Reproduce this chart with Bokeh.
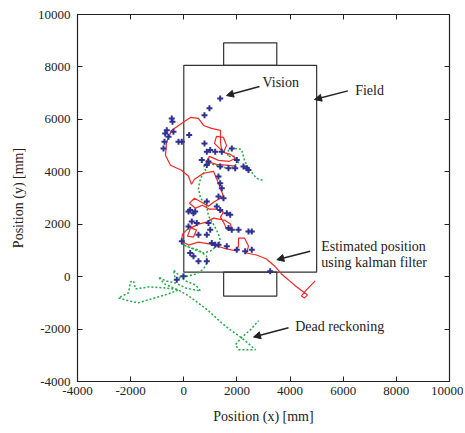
from bokeh.plotting import figure
from bokeh.models import Range1d, FixedTicker, LinearAxis, Arrow, NormalHead, Label, PrintfTickFormatter
from bokeh.embed import file_html
from bokeh.resources import INLINE

# Field outline and goals (mm)
field_left = [0, 1500, 1500]
field_right = [5000, 3500, 3500]
field_bottom = [170, 8060, -745]
field_top = [8060, 8920, 170]

# Estimated position using Kalman filter (mm)
kalman_x = [4946, 4581, 4430, 4543, 4656, 4506, 4204, 3941, 3677, 3414, 3113, 2736, 2360,
            2435, 2285, 2059, 2059, 1984, 1494, 1005, 553, 177, -87, -49, 215, 478, 365, 139,
            252, 553, 854, 1118, 1532, 1758, 1795, 1607, 1532, 1381, 1494, 1268, 967, 704, 440,
            215, 403, 666, 930, 1118, 1494, 1306, 1118, 742, 403, 290, 177, -87, -501, -689,
            -651, -463, -87, 252, 553, 742, 1043, 1381, 1381, 1419, 1155, 1231, 1494, 1607,
            1494, 1758, 1946, 1720, 1306, 967, 854, 1231, 1682, 1984]
kalman_y = [-163, -544, -734, -810, -696, -582, -354, -125, 103, 407, 673, 825, 901,
            1167, 1471, 1471, 1167, 977, 1091, 1243, 1319, 1205, 1357, 1623, 1889, 1776, 1509, 1547,
            1852, 2004, 2080, 2232, 2156, 2004, 1814, 1814, 2004, 2270, 2460, 2574, 2574, 2726, 2612,
            2802, 2992, 2840, 2688, 2840, 3068, 3562, 4019, 3943, 3715, 3524, 3829, 4057, 4247, 4627,
            5121, 5577, 5844, 6072, 6034, 5768, 5654, 5577, 5159, 4817, 5083, 5349, 5311, 5007,
            4741, 4665, 4513, 4399, 4437, 4589, 4399, 4285, 4247, 4209]

# Dead reckoning (mm)
dead_x = [2962, 2736, 2435, 2285, 2172, 1908, 1683, 1645, 1908, 2059, 1795, 1381, 1005, 742,
          817, 629, 553, 629, 854, 930, 1155, 1306, 1381, 1231, 1005, 742, 440, 102, -87, 177,
          553, 854, 892, 742, 478, 177, -87, -312, -388, -199, 64, 440, 629, 403, 64, -312,
          -689, -952, -726, -388, -199, -576, -1216, -1705, -2081, -2458, -2081, -2006, -1893,
          -1818, -1329, -689, -199, 177, 440, 930, 1419, 1795, 2172, 2435, 2698, 2360, 2059,
          1946, 2172, 2510, 2811]
dead_y = [3677, 3753, 4133, 4437, 4855, 4893, 4817, 4589, 4589, 4361, 4133, 4171, 4323, 4285,
          4057, 3753, 3372, 2992, 2726, 2308, 1928, 1623, 1357, 1167, 977, 901, 1015, 1167, 1243,
          1129, 1015, 787, 559, 293, 103, 27, -11, -125, 255, 65, -163, -316, -544, -506, -430,
          -240, -163, -11, -278, -430, -506, -658, -848, -1000, -924, -810, -620, -202, -163,
          -468, -392, -430, -506, -734, -924, -1304, -1760, -2064, -2330, -2558, -2787, -2787,
          -2787, -2597, -2330, -2026, -1684]

# Vision measurements (mm)
vision_x = [1370, 967, 779, -452, -425, -640, -700, -576, -726, -764, -199, -75, 203, 779, 866,
            994, 678, 866, 930, 1182, 1430, 1807, 1995, 1370, 1683, 1935, 2247, 2371, 2435, 1306,
            1370, 1430, 1306, 1494, 866, 1242, 1370, 1619, 1747, 177, 365, 301, 489, 177, 930,
            994, 553, 866, 1054, 1182, 1306, 1683, 1807, 2059, 2435, 2560, 1619, 1995, 2311, 2560,
            -75, 241, 365, 553, 866, 3252, -263, -11, 241, 429, -388]
vision_y = [6794, 6420, 6159, 6034, 5908, 5589, 5464, 5338, 5148, 4893, 5148, 5148, 5399, 5083,
            4768, 4829, 4448, 4258, 4388, 4768, 4768, 4893, 4448, 4197, 4133, 4133, 4197, 4133,
            4068, 3817, 3562, 3372, 3057, 2992, 2867, 2677, 2547, 2422, 2357, 2487, 2422, 2106,
            2042, 1916, 2042, 1787, 1597, 1597, 1281, 1217, 1217, 1852, 1787, 1787, 1726, 1726,
            1156, 1027, 966, 1027, 1346, 901, 776, 586, 586, 205, -114, 15, 2547, 2487, 5528]

ticks = [-4000, -2000, 0, 2000, 4000, 6000, 8000, 10000]

# Annotations: text, text position, arrow start, arrow end
ann_text = ["Vision", "Field", "Estimated position", "using kalman filter", "Dead reckoning"]
ann_tx = [2962, 6451, 5172, 5172, 4193]
ann_ty = [7403, 7087, 1156, 521, -1886]
arr_x0 = [2849, 6173, 4758, 3941]
arr_y0 = [7250, 7087, 966, -1950]
arr_x1 = [1607, 4920, 3501, 2624]
arr_y1 = [6908, 6756, 646, -2304]

FONT = "Liberation Serif"
INK = "#222222"

p = figure(width=463, height=431, output_backend="svg", toolbar_location=None,
           x_range=Range1d(-4000, 10000), y_range=Range1d(-4000, 10000),
           min_border_left=77, min_border_right=14, min_border_top=14, min_border_bottom=50)
p.background_fill_color = "white"
p.border_fill_color = "white"
p.outline_line_color = INK
p.outline_line_width = 1.2
p.grid.visible = False

for ax in (p.xaxis[0], p.yaxis[0]):
    ax.ticker = FixedTicker(ticks=ticks)
    ax.formatter = PrintfTickFormatter(format="%d")
    ax.major_tick_in = 5
    ax.major_tick_out = 0
    ax.minor_tick_line_color = None
    ax.axis_line_color = INK
    ax.major_tick_line_color = INK
    ax.major_label_text_font = FONT
    ax.major_label_text_font_size = "13px"
    ax.major_label_text_color = INK
    ax.axis_label_text_font = FONT
    ax.axis_label_text_font_size = "14px"
    ax.axis_label_text_font_style = "normal"
    ax.axis_label_text_color = INK

p.xaxis.axis_label = "Position (x) [mm]"
p.yaxis.axis_label = "Position (y) [mm]"
p.xaxis.major_label_standoff = 5
p.yaxis.major_label_standoff = 7
p.xaxis.axis_label_standoff = 11
p.yaxis.axis_label_standoff = 9

for loc in ("right", "above"):
    ax = LinearAxis(ticker=FixedTicker(ticks=ticks), major_tick_in=5, major_tick_out=0,
                    minor_tick_line_color=None, formatter=PrintfTickFormatter(format=""),
                    major_label_standoff=0,
                    axis_line_color=INK, major_tick_line_color=INK)
    p.add_layout(ax, loc)

p.quad(left=field_left, right=field_right, bottom=field_bottom, top=field_top,
       fill_color=None, line_color="#333333", line_width=1.2)

p.line(dead_x, dead_y, line_color="#22a845", line_width=1.5, line_dash="2 2")
p.line(kalman_x, kalman_y, line_color="#f02828", line_width=1.2)
p.scatter(vision_x, vision_y, marker="cross", size=6, line_width=2,
          line_color="#2e3192")

for i in range(len(arr_x0)):
    p.add_layout(Arrow(end=NormalHead(size=7, fill_color=INK, line_color=INK),
                       x_start=arr_x0[i], y_start=arr_y0[i], x_end=arr_x1[i], y_end=arr_y1[i],
                       line_color=INK, line_width=1.5))

for t, x, y in zip(ann_text, ann_tx, ann_ty):
    p.add_layout(Label(x=x, y=y, text=t, text_font=FONT, text_font_size="14px",
                       text_color=INK, text_baseline="middle", text_align="left"))

open("out.html", "w").write(file_html(p, INLINE))
